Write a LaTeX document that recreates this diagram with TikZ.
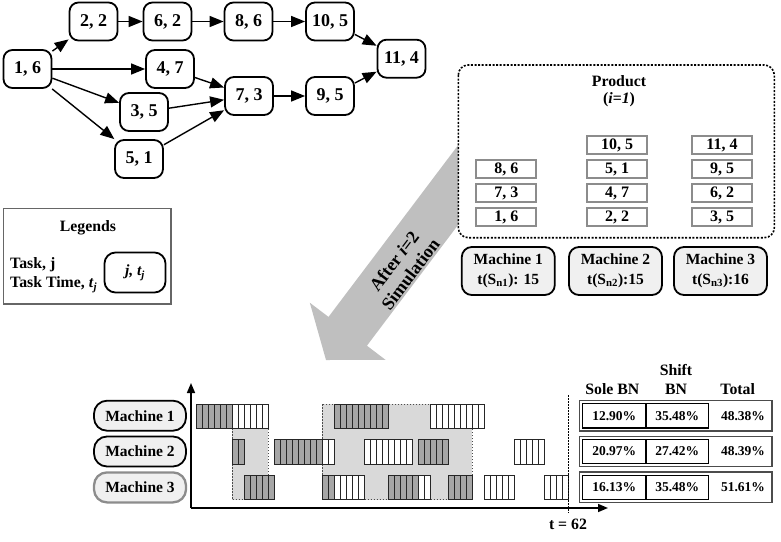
\documentclass[tikz,border=0pt]{standalone}
\usepackage{fontspec}
\setmainfont{Liberation Serif}
\usetikzlibrary{arrows.meta}

\definecolor{cellgray}{HTML}{A6A6A6}
\definecolor{shadegray}{HTML}{D9D9D9}
\definecolor{boxfill}{HTML}{F0F0F0}
\definecolor{midgray}{HTML}{8C8C8C}
\definecolor{arrowgray}{HTML}{BFBFBF}

\tikzset{
  tnode/.style={draw, line width=1.8pt, rounded corners=9pt, fill=white,
    minimum width=48pt, minimum height=38pt, inner sep=0pt,
    font=\fontsize{18}{20}\selectfont\bfseries},
  edgearrow/.style={line width=1.4pt, -{Triangle[length=14pt,width=11pt]}},
  pbox/.style={draw=midgray, line width=1.8pt, fill=white, minimum width=60pt,
    minimum height=18pt, inner sep=0pt, font=\fontsize{16}{16}\selectfont\bfseries},
  mbox/.style={draw, line width=1.8pt, rounded corners=10pt, fill=boxfill,
    minimum width=93pt, minimum height=48pt, inner sep=0pt, align=center,
    font=\fontsize{15.5}{20}\selectfont\bfseries},
  mlabel/.style={draw, line width=1.8pt, rounded corners=13pt, fill=boxfill,
    minimum width=92pt, minimum height=30pt, inner sep=0pt,
    font=\fontsize{15.5}{18}\selectfont\bfseries},
  txt/.style={inner sep=0pt, font=\fontsize{15.8}{19}\selectfont\bfseries},
  pct/.style={inner sep=0pt, font=\fontsize{13.5}{16}\selectfont\bfseries},
  outerrow/.style={draw=black!70, line width=1.6pt, minimum width=192.4pt, minimum height=30.3pt, inner sep=0pt},
  incell/.style={draw, line width=1.2pt, minimum height=24.4pt, inner sep=0pt, font=\fontsize{13.5}{16}\selectfont\bfseries},
  cellline/.style={draw=black!85, line width=0.9pt},
  shadearea/.style={fill=shadegray, draw=black!70, line width=0.9pt, dash pattern=on 1.5pt off 1.5pt},
  axisarrow/.style={line width=1.6pt, -{Triangle[length=10pt,width=8pt]}},
  arrtext/.style={rotate=53, inner sep=0pt, font=\fontsize{18}{21}\selectfont\bfseries},
}

\newcommand{\blk}[4]{%
  \foreach \tt in {#2,...,#3} {\draw[cellline, fill=#4] ({196+6*\tt},#1) rectangle ++(6,24.5);}}

\begin{document}
\begin{tikzpicture}[x=1pt,y=-1pt]
\useasboundingbox (0,0) rectangle (781,541);

% ---------- task graph ----------
\node[tnode] (n1) at (27.5,69) {1, 6};
\node[tnode] (n2) at (93.5,21.5) {2, 2};
\node[tnode] (n6) at (167.5,21.5) {6, 2};
\node[tnode] (n8) at (248.5,21.5) {8, 6};
\node[tnode] (n10) at (330,21.5) {10, 5};
\node[tnode] (n11) at (401.5,58.7) {11, 4};
\node[tnode] (n4) at (170,69) {4, 7};
\node[tnode] (n3) at (144,112) {3, 5};
\node[tnode] (n5) at (139,159) {5, 1};
\node[tnode] (n7) at (249,96) {7, 3};
\node[tnode] (n9) at (330,96) {9, 5};

\draw[edgearrow] (n1) -- (n2);
\draw[edgearrow] (n2) -- (n6);
\draw[edgearrow] (n6) -- (n8);
\draw[edgearrow] (n8) -- (n10);
\draw[edgearrow] (n10) -- (n11);
\draw[edgearrow] (n1) -- (n4);
\draw[edgearrow] (n1) -- (n3);
\draw[edgearrow] (n1) -- (n5);
\draw[edgearrow] (n4) -- (n7);
\draw[edgearrow] (n3) -- (n7);
\draw[edgearrow] (n5) -- (n7);
\draw[edgearrow] (n7) -- (n9);
\draw[edgearrow] (n9) -- (n11);

% ---------- legend ----------
\draw[draw=black!60, line width=1.3pt] (3.3,208.3) rectangle (171,304);
\node[txt] (legt) at (88,227.3) {Legends};
\node[txt, anchor=west] (leg1) at (10,265) {Task, j};
\node[txt, anchor=west] (leg2) at (10,285) {Task Time, \textit{t}\textsubscript{\textit{j}}};
\node[tnode, minimum width=61pt, minimum height=40pt, rounded corners=11pt,
  font=\fontsize{15.5}{18}\selectfont\bfseries\itshape] (legn) at (135,272.5) {j, t\textsubscript{j}};

% ---------- big arrow ----------
\fill[arrowgray] (326,360) -- (309.8,302.7) -- (328.5,316.9) -- (467,133.4)
  -- (505.4,162.2) -- (366.9,345.7) -- (385.6,359.9) -- cycle;
\node[arrtext] (arrtxt1) at (394,261) {After \textit{i}=2};
\node[arrtext] (arrtxt2) at (410.5,274) {Simulation};

% ---------- product box ----------
\draw[fill=white, line width=1.6pt, dash pattern=on 2pt off 1.6pt, rounded corners=10pt]
  (458.3,65) rectangle (774.3,237.7);
\node[txt] (prod) at (619,81) {Product};
\node[txt] (prodi) at (619,100) {(\textit{i}=\textit{1})};

\node[pbox] (a1) at (506.3,169) {8, 6};
\node[pbox] (a2) at (506.3,193) {7, 3};
\node[pbox] (a3) at (506.3,217) {1, 6};
\node[pbox] (b0) at (617,145) {10, 5};
\node[pbox] (b1) at (617,169) {5, 1};
\node[pbox] (b2) at (617,193) {4, 7};
\node[pbox] (b3) at (617,217) {2, 2};
\node[pbox] (c0) at (722,145) {11, 4};
\node[pbox] (c1) at (722,169) {9, 5};
\node[pbox] (c2) at (722,193) {6, 2};
\node[pbox] (c3) at (722,217) {3, 5};

\node[mbox] (m1) at (508.3,271) {Machine 1\\t(S\textsubscript{n1}): 15};
\node[mbox] (m2) at (615.5,271) {Machine 2\\t(S\textsubscript{n2}):15};
\node[mbox] (m3) at (720.5,271) {Machine 3\\t(S\textsubscript{n3}):16};

% ---------- Gantt chart ----------
\fill[shadearea] (232,428) rectangle (268,499.5);
\fill[shadearea] (322,404) rectangle (472,499.5);
\draw[shadearea, fill=none] (232,428) rectangle (268,499.5);
\draw[shadearea, fill=none] (322,404) rectangle (472,499.5);

% machine 1
\blk{404}{0}{5}{cellgray}
\blk{404}{6}{11}{white}
\blk{404}{23}{31}{cellgray}
\blk{404}{39}{47}{white}
% machine 2
\blk{439.5}{6}{7}{cellgray}
\blk{439.5}{13}{20}{cellgray}
\blk{439.5}{21}{22}{white}
\blk{439.5}{28}{35}{white}
\blk{439.5}{37}{41}{cellgray}
\blk{439.5}{53}{57}{white}
% machine 3
\blk{475}{8}{12}{cellgray}
\blk{475}{21}{22}{cellgray}
\blk{475}{23}{27}{white}
\blk{475}{32}{36}{cellgray}
\blk{475}{37}{38}{white}
\blk{475}{42}{45}{cellgray}
\blk{475}{48}{52}{white}
\blk{475}{58}{61}{white}

\coordinate (orig) at (191,508);
\coordinate (ytop) at (191,383);
\coordinate (xend) at (608,508);
\draw[axisarrow] (orig) -- (ytop);
\draw[axisarrow] (orig) -- (xend);
\coordinate (d1) at (568,395);
\coordinate (d2) at (568,513);
\draw[line width=1pt, dash pattern=on 1.5pt off 1.5pt] (d1) -- (d2);
\node[txt] (t62) at (568,524) {t = 62};

\node[mlabel] (g1) at (140,415.7) {Machine 1};
\node[mlabel] (g2) at (140,451.5) {Machine 2};
\node[mlabel, draw=midgray, line width=2.3pt] (g3) at (140,487.4) {Machine 3};

% ---------- table ----------
\node[txt] (hshift) at (676,370) {Shift};
\node[txt] (hsole) at (612.3,389.3) {Sole BN};
\node[txt] (hbn) at (676,389.3) {BN};
\node[txt] (htot) at (737.7,389.3) {Total};

\node[outerrow] (r1) at (675.5,415.7) {};
\node[incell, minimum width=63.7pt] (c11) at (614.2,415.7) {12.90\%};
\node[incell, minimum width=62.3pt] (c12) at (677.2,415.7) {35.48\%};
\node[pct] (c13) at (743,415.7) {48.38\%};

\node[outerrow] (r2) at (675.5,451.5) {};
\node[incell, minimum width=63.7pt] (c21) at (614.2,451.5) {20.97\%};
\node[incell, minimum width=62.3pt] (c22) at (677.2,451.5) {27.42\%};
\node[pct] (c23) at (743,451.5) {48.39\%};

\node[outerrow] (r3) at (675.5,487.4) {};
\node[incell, minimum width=63.7pt] (c31) at (614.2,487.4) {16.13\%};
\node[incell, minimum width=62.3pt] (c32) at (677.2,487.4) {35.48\%};
\node[pct] (c33) at (743,487.4) {51.61\%};

\end{tikzpicture}
\end{document}
